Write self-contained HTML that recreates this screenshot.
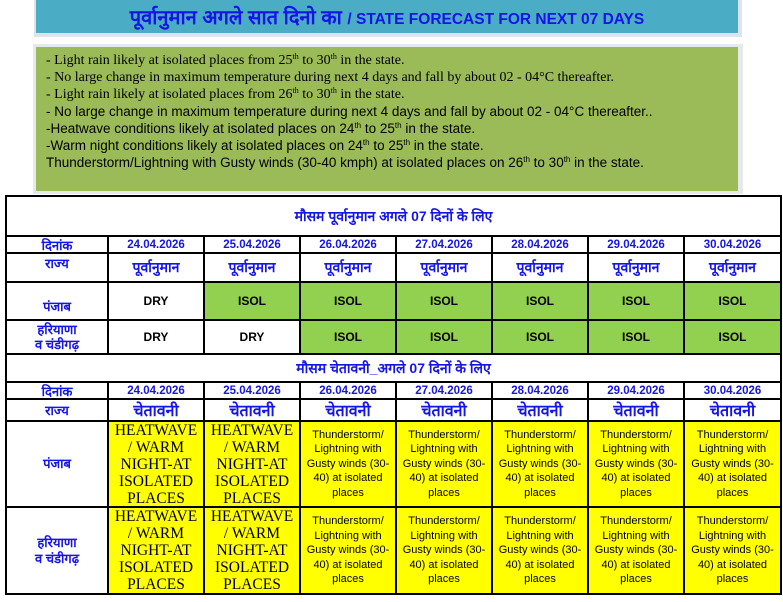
<!DOCTYPE html>
<html><head><meta charset="utf-8"><style>
body{margin:0;width:783px;height:602px;background:#fff;position:relative;overflow:hidden;font-family:"Liberation Sans","Noto Sans CJK SC",sans-serif}
.a{position:absolute;box-sizing:border-box}
.c{position:absolute;box-sizing:border-box;display:flex;align-items:center;justify-content:center;text-align:center;border-right:2px solid #000;border-bottom:2px solid #000}
.h{color:#1515e6;font-weight:bold}
.g{background:#92d050}
.y{background:#ffff00}
.ser{font-family:"Liberation Serif",serif;font-size:15.5px;line-height:17px;color:#000}
.ts{font-size:11px;line-height:14.5px;color:#000}
.line{font-size:13.5px;line-height:17px;height:17px;color:#000;white-space:nowrap}
sup{font-size:8px;line-height:0;vertical-align:5px}
</style></head><body>
<div class="a" style="left:34px;top:0;width:708px;height:37px;background:#dde4ea"></div>
<div class="a" style="left:36px;top:0;width:702px;height:33px;background:#4bacc6;color:#1414e6;font-weight:bold;text-align:center;line-height:36px;font-size:20px;white-space:nowrap">पूर्वानुमान अगले सात दिनो का <span style="font-size:15.5px">/ STATE FORECAST FOR NEXT 07 DAYS</span></div>
<div class="a" style="left:33px;top:44px;width:710px;height:150px;background:#e6e9ec"></div>
<div class="a" style="left:36px;top:47px;width:702px;height:144px;background:#9bbb59;padding:5px 0 0 10px">
<div class="line" style="font-family:'Liberation Serif',serif;font-size:14px">- Light rain likely at isolated places from 25<sup>th</sup> to 30<sup>th</sup> in the state.</div>
<div class="line" style="font-family:'Liberation Serif',serif;font-size:14px">- No large change in maximum temperature during next 4 days and fall by about 02 - 04°C thereafter.</div>
<div class="line" style="font-family:'Liberation Serif',serif;font-size:14px">- Light rain likely at isolated places from 26<sup>th</sup> to 30<sup>th</sup> in the state.</div>
<div class="line">- No large change in maximum temperature during next 4 days and fall by about 02 - 04°C thereafter..</div>
<div class="line">-Heatwave conditions likely at isolated places on 24<sup>th</sup> to 25<sup>th</sup> in the state.</div>
<div class="line">-Warm night conditions likely at isolated places on 24<sup>th</sup> to 25<sup>th</sup> in the state.</div>
<div class="line">Thunderstorm/Lightning with Gusty winds (30-40 kmph) at isolated places on 26<sup>th</sup> to 30<sup>th</sup> in the state.</div>
</div>
<div class="a" style="left:5px;top:195px;width:777px;height:400px;border-left:2px solid #000;border-top:2px solid #000"></div>
<div id="t"></div>
<script>
const X=[7,109,205,301,397,493,589,685,782];
const dates=["24.04.2026","25.04.2026","26.04.2026","27.04.2026","28.04.2026","29.04.2026","30.04.2026"];
let h="";
function cell(x1,x2,y1,y2,cls,txt,st){h+=`<div class="c ${cls}" style="left:${x1}px;top:${y1}px;width:${x2-x1}px;height:${y2-y1}px;${st||''}">${txt}</div>`;}
cell(7,782,197,237,"h","मौसम पूर्वानुमान अगले 07 दिनों के लिए","font-size:14px");
cell(7,109,237,254,"h","दिनांक","font-size:13px");
dates.forEach((d,i)=>cell(X[i+1],X[i+2],237,254,"h",d,"font-size:11.5px"));
cell(7,109,254,283,"h","राज्य","font-size:13px;align-items:flex-start");
dates.forEach((d,i)=>cell(X[i+1],X[i+2],254,283,"h","पूर्वानुमान","font-size:14px"));
cell(7,109,283,321,"h","पंजाब","font-size:13px;padding-top:10px");
["DRY","ISOL","ISOL","ISOL","ISOL","ISOL","ISOL"].forEach((v,i)=>cell(X[i+1],X[i+2],283,321,v=="ISOL"?"g":"",v,"font-size:12px;font-weight:bold"));
cell(7,109,321,355,"h","हरियाणा<br>व चंडीगढ़","font-size:13px;line-height:15px");
["DRY","DRY","ISOL","ISOL","ISOL","ISOL","ISOL"].forEach((v,i)=>cell(X[i+1],X[i+2],321,355,v=="ISOL"?"g":"",v,"font-size:12px;font-weight:bold"));
cell(7,782,355,383,"h","मौसम चेतावनी_अगले 07 दिनों के लिए","font-size:14px");
cell(7,109,383,400,"h","दिनांक","font-size:13px");
dates.forEach((d,i)=>cell(X[i+1],X[i+2],383,400,"h",d,"font-size:11.5px"));
cell(7,109,400,422,"h","राज्य","font-size:13px");
dates.forEach((d,i)=>cell(X[i+1],X[i+2],400,422,"h","चेतावनी","font-size:16px"));
const hw="HEATWAVE<br>/ WARM<br>NIGHT-AT<br>ISOLATED<br>PLACES";
const ts="Thunderstorm/<br>Lightning with<br>Gusty winds (30-<br>40) at isolated<br>places";
[[422,508,"पंजाब"],[508,595,"हरियाणा<br>व चंडीगढ़"]].forEach(r=>{
cell(7,109,r[0],r[1],"h",r[2],"font-size:13px;line-height:16px");
dates.forEach((d,i)=>cell(X[i+1],X[i+2],r[0],r[1],i<2?"y ser":"y ts",i<2?hw:ts));
});
document.getElementById("t").innerHTML=h;
</script>
</body></html>
